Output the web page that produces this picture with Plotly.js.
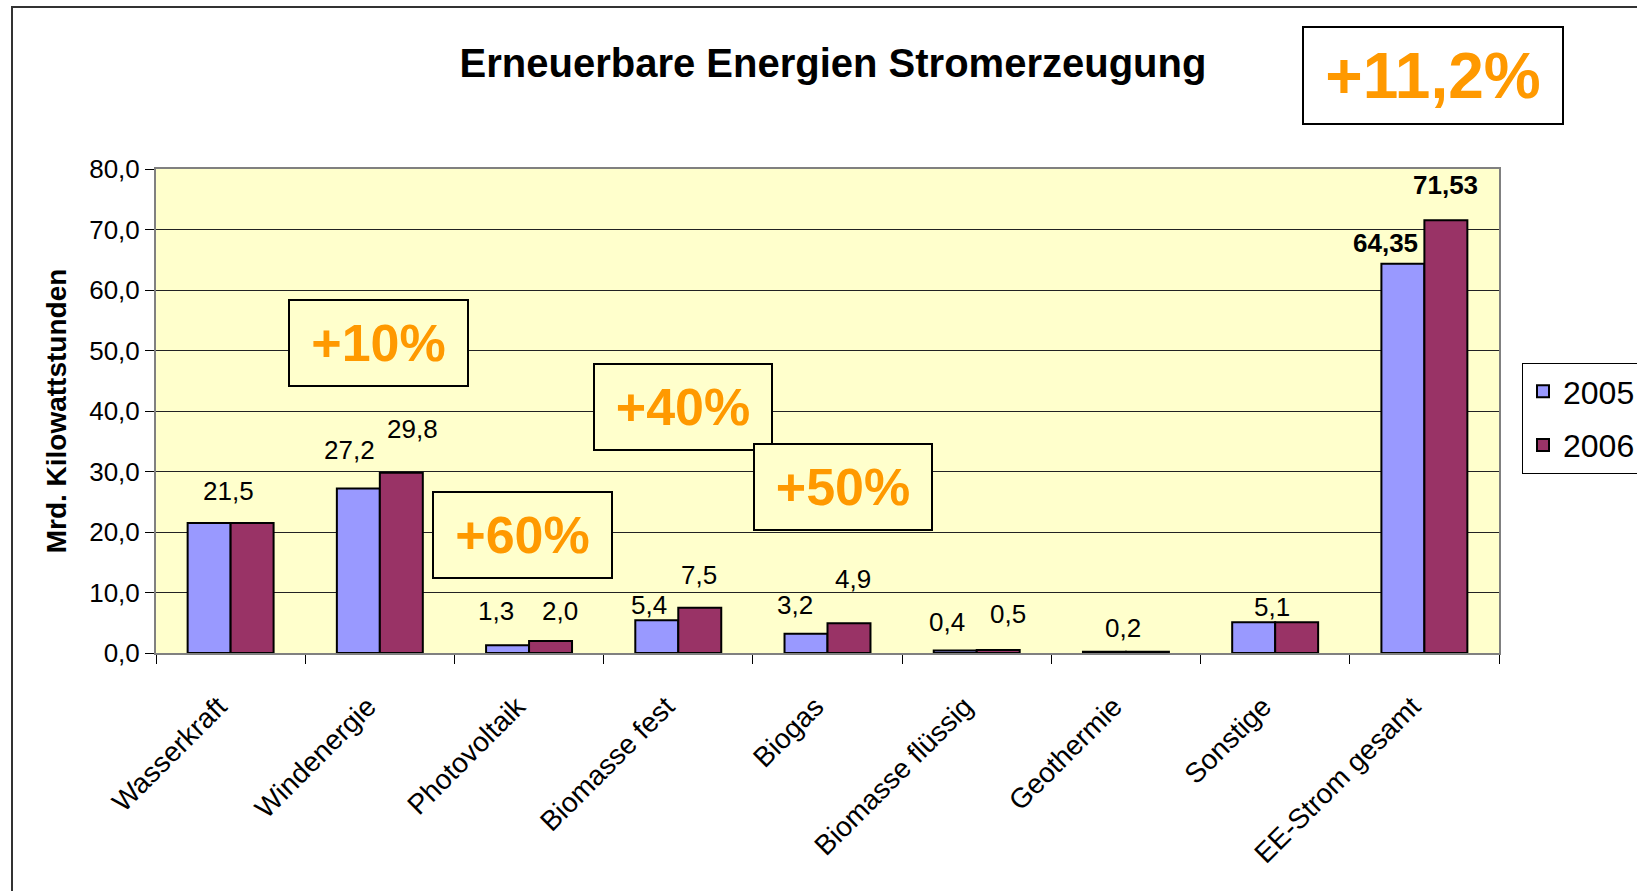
<!DOCTYPE html>
<html>
<head>
<meta charset="utf-8">
<script src="https://cdn.plot.ly/plotly-3.0.1.min.js"></script>
<style>html,body{margin:0;padding:0;background:#fff;}#chart{width:1637px;height:891px;}</style>
</head>
<body>
<div id="chart"></div>
<script>
// ---- data ----
const categories = ["Wasserkraft","Windenergie","Photovoltaik","Biomasse fest","Biogas","Biomasse flüssig","Geothermie","Sonstige","EE-Strom gesamt"];
const values2005 = [21.5, 27.2, 1.3, 5.4, 3.2, 0.4, 0.2, 5.1, 64.35];
const values2006 = [21.5, 29.8, 2.0, 7.5, 4.9, 0.5, 0.2, 5.1, 71.53];
const seriesNames = ["2005","2006"];
const yTicks = [0,10,20,30,40,50,60,70,80];
const growthLabels = ["+10%","+60%","+40%","+50%"];
const totalGrowth = "+11,2%";

// ---- layout helpers (pixel geometry of the plot area) ----
const W = 1637, H = 891;
const PL = 156, PR = 1499, PT = 169, PB = 653;
const pw = PR - PL, ph = PB - PT;
const px2x = p => (p - PL) / pw;
const py2y = p => (PB - p) / ph;
const FONT = "Liberation Sans, Arial, sans-serif";

// label offsets (pixels) relative to the group centre / bar top: [dx2005, dy2005, dx2006, dy2006]
const labelShift = [
  [-2,32,-2,32],[-30,38,33,44],[-33,34,31,30],[-29,15,21,33],[-33,29,25,44],
  [-30,29,31,36],[-3,24,-3,24],[-3,15,-3,15],[-39,21,21,35]
];

function fmt(v, i){
  const dec = (i === categories.length-1) ? 2 : 1;
  return v.toFixed(dec).replace('.', ',');
}

const annotations = [];
categories.forEach((c, i) => {
  const a = values2005[i], b = values2006[i];
  const bold = (i === categories.length-1);
  const font = {family: FONT, size: 26, color: '#000', weight: bold ? 'bold' : 'normal'};
  const s = labelShift[i];
  annotations.push({x: c, y: a, xref:'x', yref:'y', text: fmt(a,i), showarrow:false,
    xshift: s[0], yshift: s[1], font: font, xanchor:'center', yanchor:'middle'});
  if (a !== b) {
    annotations.push({x: c, y: b, xref:'x', yref:'y', text: fmt(b,i), showarrow:false,
      xshift: s[2], yshift: s[3], font: font, xanchor:'center', yanchor:'middle'});
  }
});

// growth boxes: [x0, y0, x1, y1] in pixels
const boxes = [[289,300,468,386],[433,492,612,578],[594,364,772,450],[754,444,932,530]];
boxes.forEach((bx, k) => {
  annotations.push({
    xref:'paper', yref:'paper',
    x: px2x((bx[0]+bx[2])/2), y: py2y((bx[1]+bx[3])/2),
    xanchor:'center', yanchor:'middle', showarrow:false,
    text: growthLabels[k],
    font: {family: FONT, size: 52, color: '#FF9900', weight: 'bold'},
    bgcolor: '#FFFFCC', bordercolor: '#000', borderwidth: 2, borderpad: 0,
    width: bx[2]-bx[0]-2, height: bx[3]-bx[1]-2
  });
});
annotations.push({
  xref:'paper', yref:'paper',
  x: px2x((1303+1563)/2), y: py2y((27+124)/2),
  xanchor:'center', yanchor:'middle', showarrow:false,
  text: totalGrowth,
  font: {family: FONT, size: 64, color: '#FF9900', weight: 'bold'},
  bgcolor: '#FFFFFF', bordercolor: '#000', borderwidth: 2, borderpad: 0,
  width: 1563-1303-2, height: 124-27-2
});

const traces = [
  {type:'bar', name: seriesNames[0], x: categories, y: values2005, legendgroup: 'g1',
   marker:{color:'#9999FF', line:{color:'#000', width:2}}, hoverinfo:'skip'},
  {type:'bar', name: seriesNames[1], x: categories, y: values2006, legendgroup: 'g2',
   marker:{color:'#993366', line:{color:'#000', width:2}}, hoverinfo:'skip'}
];

const layout = {
  width: W, height: H,
  margin: {l: PL, r: W-PR, t: PT, b: H-PB, autoexpand: false},
  paper_bgcolor: '#FFFFFF', plot_bgcolor: '#FFFFCC',
  separators: ',.',
  font: {family: FONT, color: '#000'},
  title: {text: 'Erneuerbare Energien Stromerzeugung', x: 833/W, xanchor:'center',
          y: 1 - 63/H, yanchor:'middle', yref:'container',
          font: {family: FONT, size: 40, color:'#000', weight:'bold'}},
  barmode: 'group', bargap: 0.424, bargroupgap: 0,
  xaxis: {
    type:'category', tickangle: -45, tickson: 'boundaries', ticks: 'outside', ticklen: 9,
    tickcolor: '#000', tickwidth: 1, ticklabelstandoff: 24, ticklabelshift: -12,
    tickfont: {family: FONT, size: 28, color:'#000'},
    showline: true, linecolor: '#808080', linewidth: 2, mirror: true, showgrid: false,
    fixedrange: true
  },
  yaxis: {
    range: [0, 80], tickvals: yTicks, tickformat: '.1f', ticks: 'outside', ticklen: 9,
    tickcolor: '#000', tickwidth: 1,
    tickfont: {family: FONT, size: 26, color:'#000'},
    showline: true, linecolor: '#808080', linewidth: 2, mirror: true,
    showgrid: true, gridcolor: '#222', gridwidth: 1, zeroline: false,
    title: {text: 'Mrd. Kilowattstunden', standoff: 14,
            font: {family: FONT, size: 28, color:'#000', weight:'bold'}},
    fixedrange: true
  },
  legend: {
    x: px2x(1522), y: py2y(363), xanchor:'left', yanchor:'top',
    bgcolor:'#FFFFFF', bordercolor:'#000', borderwidth: 1,
    font: {family: FONT, size: 32, color:'#000'}, itemwidth: 30,
    tracegroupgap: 9
  },
  shapes: [
    {type:'rect', xref:'paper', yref:'paper', x0: px2x(12), x1: 2, y0: -2, y1: py2y(7),
     line:{color:'#333', width:2}, fillcolor:'rgba(0,0,0,0)', layer:'above'}
  ],
  annotations: annotations
};

Plotly.newPlot('chart', traces, layout, {displayModeBar: false, staticPlot: true});
</script>
</body>
</html>
